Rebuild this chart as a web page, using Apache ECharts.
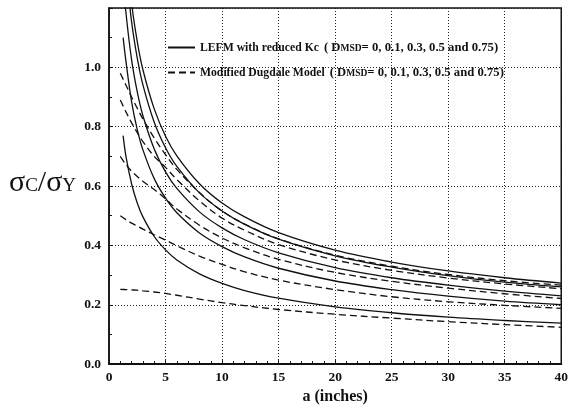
<!DOCTYPE html>
<html>
<head>
<meta charset="utf-8">
<script src="https://cdn.jsdelivr.net/npm/echarts@6/dist/echarts.min.js"></script>
<style>html,body{margin:0;padding:0;background:#fff}#c{width:571px;height:410px}</style>
</head>
<body>
<div id="c"></div>
<script>
// crack length a (inches)
const aSolid = [1.25, 1.5, 2, 2.5, 3, 4, 5, 6, 8, 10, 12, 15, 20, 25, 30, 35, 40];
const aDash  = [1, 1.5, 2, 2.5, 3, 4, 5, 6, 8, 10, 12, 15, 20, 25, 30, 35, 40];
// LEFM with reduced Kc, DMSD = 0, 0.1, 0.3, 0.5, 0.75
const lefm0   = [1.54, 1.40, 1.215, 1.087, 0.992, 0.86, 0.768, 0.702, 0.608, 0.543, 0.496, 0.443, 0.384, 0.344, 0.314, 0.291, 0.273];
const lefm01  = [1.46, 1.33, 1.153, 1.031, 0.941, 0.815, 0.729, 0.666, 0.577, 0.516, 0.471, 0.421, 0.365, 0.327, 0.298, 0.276, 0.260];
const lefm03  = [1.30, 1.184, 1.025, 0.917, 0.837, 0.725, 0.648, 0.592, 0.513, 0.459, 0.419, 0.375, 0.325, 0.291, 0.266, 0.246, 0.230];
const lefm05  = [1.10, 1.02, 0.884, 0.79, 0.722, 0.625, 0.559, 0.510, 0.442, 0.396, 0.361, 0.323, 0.280, 0.251, 0.229, 0.212, 0.200];
const lefm075 = [0.77, 0.70, 0.607, 0.543, 0.496, 0.430, 0.385, 0.351, 0.304, 0.272, 0.248, 0.222, 0.193, 0.173, 0.158, 0.147, 0.138];
// Modified Dugdale Model, DMSD = 0, 0.1, 0.3, 0.5, 0.75
const dug0   = [0.98, 0.94, 0.90, 0.862, 0.826, 0.762, 0.706, 0.656, 0.578, 0.516, 0.472, 0.422, 0.367, 0.330, 0.302, 0.281, 0.266];
const dug01  = [0.89, 0.85, 0.813, 0.78, 0.75, 0.70, 0.663, 0.622, 0.55, 0.492, 0.451, 0.403, 0.351, 0.316, 0.290, 0.270, 0.254];
const dug03  = [0.70, 0.672, 0.65, 0.632, 0.616, 0.588, 0.557, 0.523, 0.468, 0.425, 0.392, 0.353, 0.309, 0.279, 0.256, 0.237, 0.221];
const dug05  = [0.50, 0.487, 0.475, 0.465, 0.455, 0.436, 0.418, 0.399, 0.364, 0.336, 0.311, 0.283, 0.251, 0.227, 0.210, 0.198, 0.188];
const dug075 = [0.252, 0.251, 0.250, 0.249, 0.247, 0.243, 0.238, 0.232, 0.219, 0.207, 0.197, 0.184, 0.168, 0.155, 0.143, 0.133, 0.124];

const solidSets = [lefm0, lefm01, lefm03, lefm05, lefm075];
const dashSets = [dug0, dug01, dug03, dug05, dug075];
const NAME_L = 'LEFM';
const NAME_D = 'Dugdale';

const pairs = (xs, ys) => xs.map((x, i) => [x, ys[i]]);
const series = [];
solidSets.forEach(s => series.push({
  name: NAME_L, type: 'line', data: pairs(aSolid, s), symbol: 'none', showSymbol: false, smooth: 0.35,
  lineStyle: {color: '#111', width: 1.3, type: 'solid'}, itemStyle: {color: '#111'}, clip: true, z: 3
}));
dashSets.forEach(s => series.push({
  name: NAME_D, type: 'line', data: pairs(aDash, s), symbol: 'none', showSymbol: false, smooth: 0.35,
  lineStyle: {color: '#111', width: 1.3, type: [7, 4]}, itemStyle: {color: '#111'}, clip: true, z: 3
}));

const serif = 'Liberation Serif';
const chart = echarts.init(document.getElementById('c'));
chart.setOption({
  animation: false,
  backgroundColor: '#fff',
  grid: {left: 109, right: 4, top: 8, bottom: 42, show: true, borderColor: '#111', borderWidth: 1.5, backgroundColor: 'transparent'},
  xAxis: {
    type: 'value', min: 0, max: 40, interval: 5,
    axisLine: {show: true, onZero: false, lineStyle: {color: '#111', width: 2}},
    axisTick: {show: true, inside: true, length: 4, lineStyle: {color: '#111'}},
    minorTick: {show: true, splitNumber: 5, length: 3, lineStyle: {color: '#111'}},
    splitLine: {show: true, lineStyle: {color: '#222', width: 1, type: [1, 2]}},
    axisLabel: {color: '#111', fontFamily: serif, fontWeight: 'bold', fontSize: 13.5, margin: 6},
    name: 'a (inches)', nameLocation: 'middle', nameGap: 22,
    nameTextStyle: {color: '#111', fontFamily: serif, fontWeight: 'bold', fontSize: 16}
  },
  yAxis: {
    type: 'value', min: 0, max: 1.2, interval: 0.2,
    axisLine: {show: true, onZero: false, lineStyle: {color: '#111', width: 1.5}},
    axisTick: {show: true, inside: true, length: 4, lineStyle: {color: '#111'}},
    minorTick: {show: true, splitNumber: 2, length: 3, lineStyle: {color: '#111'}},
    splitLine: {show: true, lineStyle: {color: '#222', width: 1, type: [1, 2]}},
    axisLabel: {color: '#111', fontFamily: serif, fontWeight: 'bold', fontSize: 13.5, margin: 8,
      showMaxLabel: false, formatter: v => v.toFixed(1)}
  },
  legend: {
    show: true, orient: 'vertical', left: 162, top: 36, itemWidth: 27, itemHeight: 10, itemGap: 12,
    data: [NAME_L, NAME_D], selectedMode: false,
    itemStyle: {opacity: 0, borderWidth: 0},
    formatter: n => (n === NAME_L ? '{a|LEFM with reduced Kc}' : '{a|Modified Dugdale Model}') +
      '{s|  }{b|( D}{c|MSD}{b|= 0, 0.1, 0.3, 0.5 and 0.75)}',
    textStyle: {
      color: '#111', fontFamily: serif,
      rich: {
        a: {fontFamily: serif, fontSize: 11.7, fontWeight: 'bold', color: '#111'},
        s: {fontSize: 10},
        b: {fontFamily: serif, fontSize: 12.7, fontWeight: 'bold', color: '#111'},
        c: {fontFamily: serif, fontSize: 9.5, fontWeight: 'bold', color: '#111', verticalAlign: 'bottom'}
      }
    }
  },
  graphic: [{
    type: 'text', left: 9, top: 168,
    style: {
      text: '{g|σ}{s|C}{g|/σ}{s|Y}',
      rich: {
        g: {fontFamily: serif, fontSize: 30, fill: '#111', fontWeight: 'normal'},
        s: {fontFamily: serif, fontSize: 19, fill: '#111', verticalAlign: 'bottom', padding: [0, 0, 2, 0]}
      }
    }
  }],
  series: series
});
</script>
</body>
</html>
